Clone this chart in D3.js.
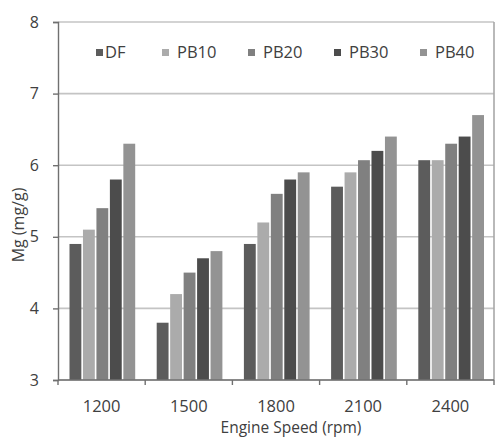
<!DOCTYPE html>
<html>
<head>
<meta charset="utf-8">
<script src="https://cdn.jsdelivr.net/npm/d3@7"></script>
<style>
  html, body { margin: 0; padding: 0; background: #fff; }
  svg { display: block; font-family: "Open Sans", "Liberation Sans", sans-serif; }
</style>
</head>
<body>
<svg id="chart" width="496" height="439"></svg>
<script>
const categories = ["1200", "1500", "1800", "2100", "2400"];
const seriesNames = ["DF", "PB10", "PB20", "PB30", "PB40"];
const DF   = [4.9, 3.8, 4.9, 5.7, 6.07];
const PB10 = [5.1, 4.2, 5.2, 5.9, 6.07];
const PB20 = [5.4, 4.5, 5.6, 6.07, 6.3];
const PB30 = [5.8, 4.7, 5.8, 6.2, 6.4];
const PB40 = [6.3, 4.8, 5.9, 6.4, 6.7];
const yTicks = [3, 4, 5, 6, 7, 8];
const colors = ["#5c5c5c", "#ababab", "#808080", "#4c4c4c", "#939393"];

const seriesValues = [DF, PB10, PB20, PB30, PB40];

const svg = d3.select("#chart");
const mLeft = 58, mRight = 494, mTop = 22, mBottom = 380;

const y = d3.scaleLinear().domain([3, 8]).range([mBottom, mTop]);
const x0 = d3.scaleBand().domain(categories).range([mLeft, mRight]).padding(0);
const x1 = d3.scaleBand().domain(seriesNames)
  .range([11.5, x0.bandwidth() - 10]).paddingInner(0.12).paddingOuter(0);

// gridlines
svg.append("g").selectAll("line").data(yTicks).join("line")
  .attr("x1", mLeft).attr("x2", mRight)
  .attr("y1", d => y(d)).attr("y2", d => y(d))
  .attr("stroke", "#c4c4c4").attr("stroke-width", 1.6);

// right border
svg.append("line")
  .attr("x1", mRight).attr("x2", mRight).attr("y1", mTop).attr("y2", mBottom)
  .attr("stroke", "#a8a8a8").attr("stroke-width", 1.6);

// bars
const groups = svg.append("g").selectAll("g").data(categories).join("g")
  .attr("transform", d => `translate(${x0(d)},0)`);
groups.selectAll("rect")
  .data((c, i) => seriesNames.map((s, j) => ({ s, j, v: seriesValues[j][i] })))
  .join("rect")
  .attr("x", d => x1(d.s))
  .attr("width", x1.bandwidth())
  .attr("y", d => y(d.v))
  .attr("height", d => y(3) - y(d.v))
  .attr("fill", d => colors[d.j]);

// y axis
const yAxis = svg.append("g").attr("transform", `translate(${mLeft},0)`)
  .call(d3.axisLeft(y).tickValues(yTicks).tickSize(5).tickPadding(14).tickFormat(d3.format("d")));
yAxis.select(".domain").attr("stroke", "#707070").attr("stroke-width", 1.4);
yAxis.selectAll(".tick line").attr("stroke", "#707070").attr("stroke-width", 1.4);
yAxis.selectAll("text").attr("font-size", 16).attr("fill", "#404040")
  .attr("font-family", "'Open Sans', sans-serif");

// x axis with ticks at category boundaries
const boundaries = categories.map(c => x0(c)).concat([mRight]);
const xAxisG = svg.append("g");
xAxisG.append("line").attr("x1", mLeft).attr("x2", mRight).attr("y1", mBottom).attr("y2", mBottom)
  .attr("stroke", "#707070").attr("stroke-width", 1.4);
xAxisG.selectAll("line.tk").data(boundaries).join("line").attr("class", "tk")
  .attr("x1", d => d).attr("x2", d => d).attr("y1", mBottom).attr("y2", mBottom + 5)
  .attr("stroke", "#707070").attr("stroke-width", 1.4);
xAxisG.selectAll("text").data(categories).join("text")
  .attr("x", d => x0(d) + x0.bandwidth() / 2)
  .attr("y", 412)
  .attr("text-anchor", "middle")
  .attr("font-size", 16.5).attr("fill", "#404040")
  .text(d => d);

// axis titles
svg.append("text")
  .attr("x", 291).attr("y", 433)
  .attr("text-anchor", "middle").attr("font-size", 15.5).attr("fill", "#404040")
  .text("Engine Speed (rpm)");
svg.append("text")
  .attr("transform", "translate(24,225) rotate(-90)")
  .attr("text-anchor", "middle").attr("font-size", 16).attr("fill", "#404040")
  .text("Mg (mg/g)");

// legend
const legendX = [96, 162, 248, 334, 420];
const legend = svg.append("g").selectAll("g").data(seriesNames).join("g")
  .attr("transform", (d, i) => `translate(${legendX[i]},49)`);
legend.append("rect").attr("width", 7).attr("height", 7).attr("fill", (d, i) => colors[i]);
legend.append("text").attr("dx", (d, i) => i === 0 ? 9 : 15)
  .attr("y", 9).attr("font-size", 16.5).attr("fill", "#404040").text(d => d);
</script>
</body>
</html>
